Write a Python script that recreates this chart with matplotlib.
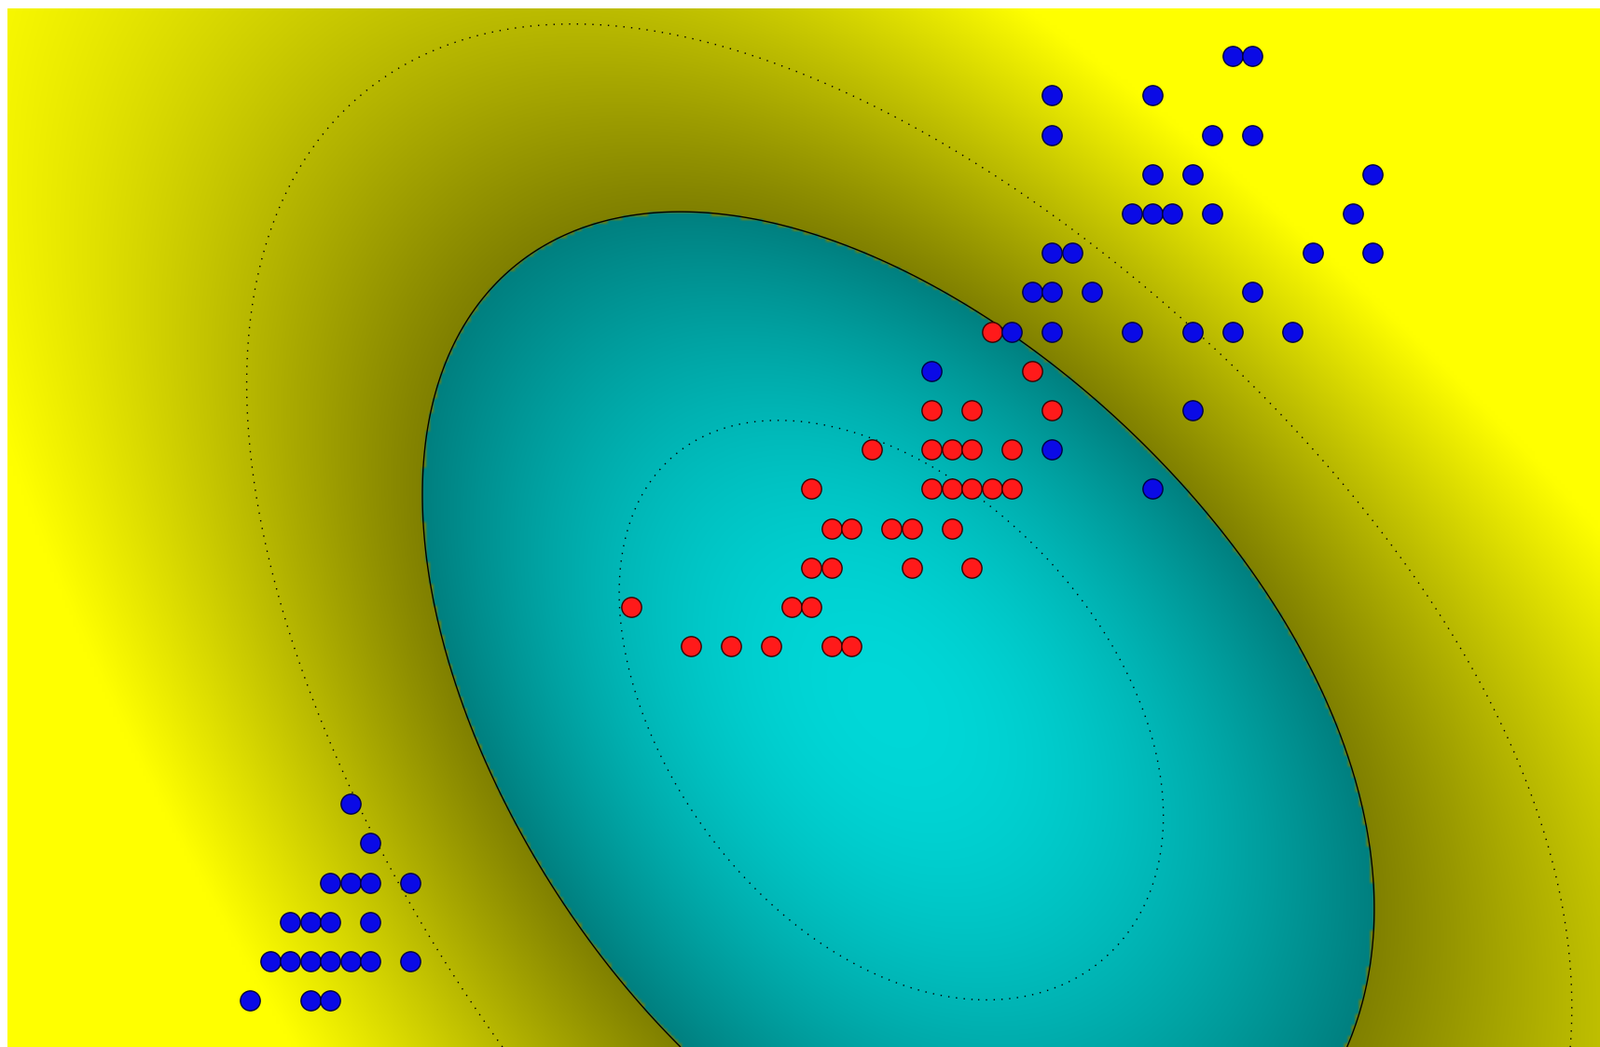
"""
Iris petal data (length vs width): versicolor (red) against setosa and
virginica (blue), separated by an RBF support vector machine.

Background shade follows the SVM output: yellow where f > 0, cyan where
f < 0, darker close to the boundary. Solid line f = 0, dotted f = +/-1.
"""

import numpy as np
import matplotlib
matplotlib.use("Agg")
import matplotlib.pyplot as plt

# versicolor, petal length / width (cm)
red_l = [4.8, 5.0, 4.5, 4.7, 5.1, 4.2, 4.5, 4.6, 4.7, 4.9,
         3.9, 4.5, 4.6, 4.7, 4.8, 4.9, 4.0, 4.1, 4.3, 4.4, 4.6,
         3.9, 4.0, 4.4, 4.7, 3.0, 3.8, 3.9, 3.3, 3.5, 3.7, 4.0, 4.1]
red_w = [1.8, 1.7, 1.6, 1.6, 1.6, 1.5, 1.5, 1.5, 1.5, 1.5,
         1.4, 1.4, 1.4, 1.4, 1.4, 1.4, 1.3, 1.3, 1.3, 1.3, 1.3,
         1.2, 1.2, 1.2, 1.2, 1.1, 1.1, 1.1, 1.0, 1.0, 1.0, 1.0, 1.0]

# setosa + virginica, petal length / width (cm)
blue_l = [1.6, 1.7, 1.5, 1.6, 1.7, 1.9, 1.3, 1.4, 1.5, 1.7,
          1.2, 1.3, 1.4, 1.5, 1.6, 1.7, 1.9, 1.1, 1.4, 1.5,
          6.0, 6.1, 5.1, 5.6, 5.1, 5.9, 6.1, 5.6, 5.8, 6.7,
          5.5, 5.6, 5.7, 5.9, 6.6, 5.1, 5.2, 6.4, 6.7,
          5.0, 5.1, 5.3, 6.1, 4.9, 5.1, 5.5, 5.8, 6.0, 6.3,
          4.5, 5.8, 5.1, 5.6]
blue_w = [0.6, 0.5, 0.4, 0.4, 0.4, 0.4, 0.3, 0.3, 0.3, 0.3,
          0.2, 0.2, 0.2, 0.2, 0.2, 0.2, 0.2, 0.1, 0.1, 0.1,
          2.5, 2.5, 2.4, 2.4, 2.3, 2.3, 2.3, 2.2, 2.2, 2.2,
          2.1, 2.1, 2.1, 2.1, 2.1, 2.0, 2.0, 2.0, 2.0,
          1.9, 1.9, 1.9, 1.9, 1.8, 1.8, 1.8, 1.8, 1.8, 1.8,
          1.7, 1.6, 1.5, 1.4]

x_lim = (-0.111, 7.833)
y_lim = (-0.018, 2.621)

# kernel works in screen space (length and width drawn at different scales)
px_scale = np.array([0.215, 0.422])
sigma = 0.7
C = 3.0


def train_svm(K, y, C, eps=1e-3, max_iter=40000):
    """
    Dual SVM solved with SMO (maximal violating pair).

    Args:
        K : kernel matrix
        y : labels in {-1, +1}
        C : box constraint
    Returns:
        alpha, bias
    """
    alpha = np.zeros(len(y))
    g = np.zeros(len(y))
    for _ in range(max_iter):
        E = g - y
        up = ((y > 0) & (alpha < C)) | ((y < 0) & (alpha > 0))
        low = ((y < 0) & (alpha < C)) | ((y > 0) & (alpha > 0))
        Eu = np.where(up, E, np.inf)
        El = np.where(low, E, -np.inf)
        i, j = np.argmin(Eu), np.argmax(El)
        if El[j] - Eu[i] < eps:
            break
        eta = max(K[i, i] + K[j, j] - 2 * K[i, j], 1e-12)
        ai, aj = alpha[i], alpha[j]
        if y[i] != y[j]:
            lo, hi = max(0, aj - ai), min(C, C + aj - ai)
        else:
            lo, hi = max(0, ai + aj - C), min(C, ai + aj)
        aj_new = np.clip(aj + y[j] * (E[i] - E[j]) / eta, lo, hi)
        ai_new = ai + y[i] * y[j] * (aj - aj_new)
        g += (ai_new - ai) * y[i] * K[:, i] + (aj_new - aj) * y[j] * K[:, j]
        alpha[i], alpha[j] = ai_new, aj_new
    E = g - y
    free = (alpha > 1e-8) & (alpha < C - 1e-8)
    b = -E[free].mean() if free.any() else -(Eu[i] + El[j]) / 2
    return alpha, b


def rbf(A, B, sigma):
    d = (A ** 2).sum(1)[:, None] + (B ** 2).sum(1)[None, :] - 2 * A @ B.T
    return np.exp(-d / (2 * sigma ** 2))


X = np.column_stack([red_l + blue_l, red_w + blue_w]) * px_scale
y = np.array([-1.0] * len(red_l) + [1.0] * len(blue_l))
alpha, b = train_svm(rbf(X, X, sigma), y, C)

# decision function on a grid
gx, gy = np.meshgrid(np.linspace(*x_lim, 430), np.linspace(*y_lim, 285))
G = np.column_stack([gx.ravel(), gy.ravel()]) * px_scale
f = (rbf(G, X, sigma) @ (alpha * y) + b).reshape(gx.shape)

# shade: 0.5 at the boundary, brighter with |f|
t = 0.5 + 0.5 * np.clip(np.abs(f) / 2.3, 0, 1)
img = np.zeros(f.shape + (3,))
img[..., 0] = np.where(f >= 0, t, 0)
img[..., 1] = t
img[..., 2] = np.where(f >= 0, 0, t)

fig = plt.figure(figsize=(17.16, 11.23), dpi=100)
ax = fig.add_axes([8 / 1716, 0, 1708 / 1716, 1114 / 1123])
ax.imshow(img, extent=(*x_lim, *y_lim), origin="lower",
          aspect="auto", interpolation="bilinear")
ax.contour(gx, gy, f, levels=[0], colors="black", linewidths=1.0)
ax.contour(gx, gy, f, levels=[-1, 1], colors="black",
           linewidths=1.0, linestyles=[(0, (1, 5))])

ax.scatter(red_l, red_w, s=235, c="#ff1a1a",
           edgecolors="#3a0000", linewidths=1.0, zorder=3)
ax.scatter(blue_l, blue_w, s=235, c="#0a0ae6",
           edgecolors="#000040", linewidths=1.0, zorder=3)

ax.set_xlim(x_lim)
ax.set_ylim(y_lim)
ax.axis("off")

plt.savefig("out.png", dpi=100)
plt.close()
